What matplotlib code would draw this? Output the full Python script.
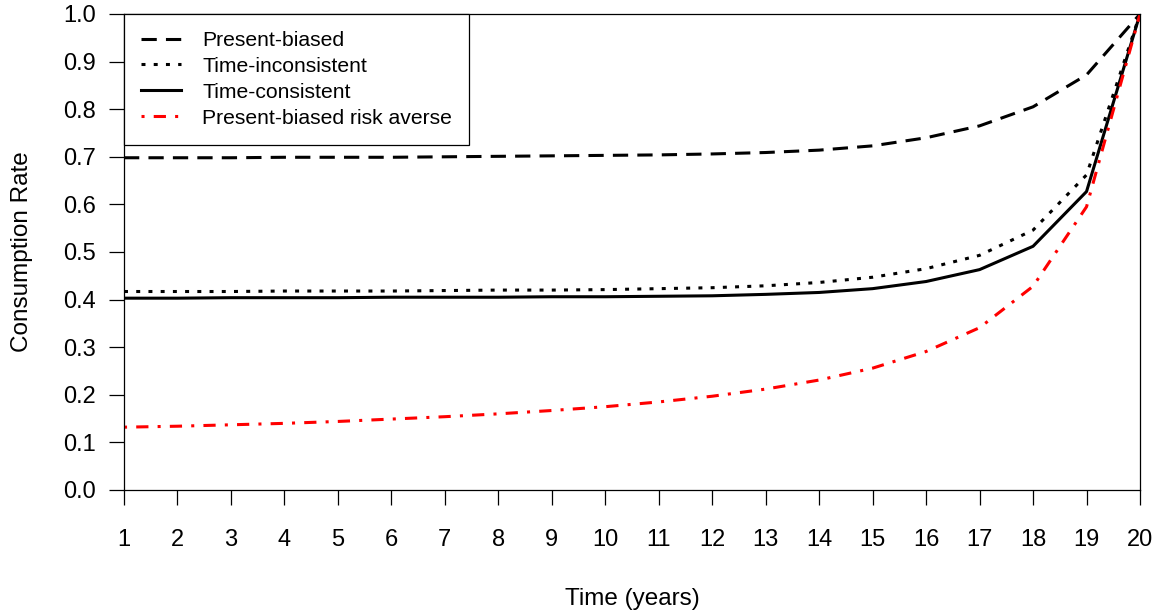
import numpy as np
import matplotlib
matplotlib.use("Agg")
import matplotlib.pyplot as plt

plt.rcParams["font.family"] = ["Liberation Sans", "DejaVu Sans"]

# ---------------------------------------------------------------------------
# Data
# ---------------------------------------------------------------------------

years = np.arange(1, 21)

present_biased = [0.698, 0.698, 0.698, 0.699, 0.699, 0.699, 0.700, 0.701,
                  0.702, 0.703, 0.704, 0.706, 0.709, 0.714, 0.723, 0.740,
                  0.765, 0.805, 0.872, 1.000]

time_inconsistent = [0.417, 0.417, 0.417, 0.418, 0.418, 0.418, 0.419, 0.420,
                     0.420, 0.421, 0.423, 0.425, 0.429, 0.436, 0.447, 0.465,
                     0.493, 0.546, 0.662, 1.000]

time_consistent = [0.403, 0.403, 0.404, 0.404, 0.404, 0.405, 0.405, 0.405,
                   0.406, 0.406, 0.407, 0.408, 0.411, 0.415, 0.423, 0.438,
                   0.463, 0.512, 0.627, 1.000]

pb_risk_averse = [0.132, 0.134, 0.137, 0.140, 0.144, 0.149, 0.154, 0.160,
                  0.167, 0.175, 0.185, 0.197, 0.212, 0.231, 0.256, 0.291,
                  0.341, 0.428, 0.595, 1.000]

y_ticks = np.round(np.arange(0, 1.01, 0.1), 1)

# ---------------------------------------------------------------------------
# Plot
# ---------------------------------------------------------------------------

fig = plt.figure(figsize=(11.61, 6.12), dpi=100)
ax = fig.add_axes([124 / 1161, 122 / 612, 1016 / 1161, 476 / 612])

lw = 2.2
ax.plot(years, present_biased, color="black", lw=lw, dashes=(5, 3),
        label="Present-biased")
ax.plot(years, time_inconsistent, color="black", lw=lw, dashes=(1.3, 2.7),
        label="Time-inconsistent")
ax.plot(years, time_consistent, color="black", lw=lw, ls="-",
        label="Time-consistent")
ax.plot(years, pb_risk_averse, color="red", lw=lw, dashes=(1, 3, 4, 3),
        label="Present-biased risk averse")

ax.set_xlim(1, 20)
ax.set_ylim(0, 1)
ax.set_xticks(years)
ax.set_yticks(y_ticks)
ax.set_yticklabels(["%.1f" % v for v in y_ticks])

for sp in ax.spines.values():
    sp.set_linewidth(0.9)
ax.tick_params(direction="out", length=11, width=0.9, labelsize=17,
               pad=9)
ax.tick_params(axis="x", pad=17)

ax.set_xlabel("Time (years)", fontsize=17.5, labelpad=27)
ax.set_ylabel("Consumption Rate", fontsize=17.5, labelpad=22)

leg = ax.legend(loc="upper left", borderaxespad=0, fancybox=False,
                edgecolor="black", fontsize=15.2, handlelength=1.9,
                handletextpad=1.0, labelspacing=0.33, borderpad=0.8)
leg.get_frame().set_linewidth(0.9)
leg.get_frame().set_alpha(1)

fig.savefig("out.png", dpi=100)
